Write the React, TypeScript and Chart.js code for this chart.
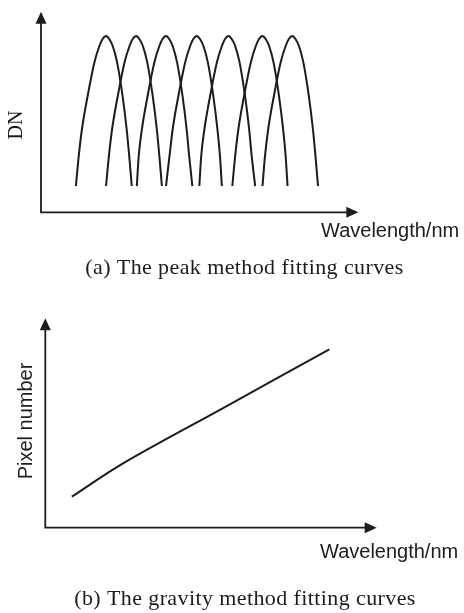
import { useEffect, useRef } from "react";
import { Chart, registerables } from "chart.js";
Chart.register(...registerables);

// ---- (a) peak method: DN levels shared by every peak curve (arbitrary units 0..100)
const DN_LEVELS = [13.1, 28.1, 41.4, 58.0, 74.6, 82.9, 86.4, 87.9, 86.4, 82.9, 74.6, 58.0, 41.4, 28.1, 13.1];
const PEAK_CURVE_1 = [11.0, 11.9, 12.9, 14.7, 16.8, 18.4, 19.4, 20.5, 21.5, 22.6, 24.0, 25.7, 27.0, 27.8, 28.6];
const PEAK_CURVE_2 = [20.5, 21.4, 22.4, 24.2, 26.3, 27.9, 28.9, 30.0, 31.0, 32.1, 33.5, 35.2, 36.5, 37.3, 38.1];
const PEAK_CURVE_3 = [30.2, 30.8, 31.8, 33.6, 35.7, 37.3, 38.3, 39.4, 40.4, 41.5, 42.9, 44.6, 45.9, 46.7, 47.7];
const PEAK_CURVE_4 = [39.4, 40.5, 41.5, 43.3, 45.4, 47.0, 48.0, 49.1, 50.1, 51.2, 52.6, 54.3, 55.6, 56.4, 57.0];
const PEAK_CURVE_5 = [49.9, 50.5, 51.5, 53.3, 55.4, 57.0, 58.0, 59.1, 60.1, 61.2, 62.6, 64.3, 65.6, 66.4, 67.5];
const PEAK_CURVE_6 = [60.3, 61.2, 62.2, 64.0, 66.1, 67.7, 68.7, 69.8, 70.8, 71.9, 73.3, 75.0, 76.3, 77.1, 77.7];
const PEAK_CURVE_7 = [69.8, 70.6, 71.6, 73.4, 75.5, 77.1, 78.1, 79.2, 80.2, 81.3, 82.7, 84.4, 85.7, 86.5, 87.3];
const PEAK_CURVES = [PEAK_CURVE_1, PEAK_CURVE_2, PEAK_CURVE_3, PEAK_CURVE_4, PEAK_CURVE_5, PEAK_CURVE_6, PEAK_CURVE_7];

// ---- (b) gravity method
const GRAVITY_X = [8.0, 23.1, 54.2, 85.7];
const GRAVITY_Y = [14.8, 30.4, 57.6, 85.2];

const LABEL_X = "Wavelength/nm";
const LABEL_Y_A = "DN";
const LABEL_Y_B = "Pixel number";
const CAPTION_A = "(a) The peak method fitting curves";
const CAPTION_B = "(b) The gravity method fitting curves";

const INK = "#1c1c1c";
const SERIF = "'Liberation Serif', serif";
const SANS = "'Liberation Sans', sans-serif";

type Decor = {
  yLabel: string;
  yFont: string;
  yLabelX: number;
  yLabelY: number;
  xLabelX: number;
  xLabelY: number;
  caption: string;
  captionY: number;
  captionX: number;
};

function makeDecor(d: Decor) {
  return {
    id: "decor",
    afterDraw(chart: any) {
      const { ctx, chartArea } = chart;
      const { left, right, top, bottom } = chartArea;
      ctx.save();
      ctx.strokeStyle = INK;
      ctx.fillStyle = INK;
      ctx.lineWidth = 1.8;
      // axes
      ctx.beginPath();
      ctx.moveTo(left, top + 10);
      ctx.lineTo(left, bottom);
      ctx.lineTo(right - 10, bottom);
      ctx.stroke();
      // arrow heads
      ctx.beginPath();
      ctx.moveTo(left, top);
      ctx.lineTo(left - 5.5, top + 12);
      ctx.lineTo(left + 5.5, top + 12);
      ctx.closePath();
      ctx.fill();
      ctx.beginPath();
      ctx.moveTo(right, bottom);
      ctx.lineTo(right - 12, bottom - 5.5);
      ctx.lineTo(right - 12, bottom + 5.5);
      ctx.closePath();
      ctx.fill();
      // x label
      ctx.font = `20px ${SANS}`;
      ctx.textAlign = "left";
      ctx.textBaseline = "alphabetic";
      ctx.fillText(LABEL_X, d.xLabelX, d.xLabelY);
      // y label
      ctx.save();
      ctx.translate(d.yLabelX, d.yLabelY);
      ctx.rotate(-Math.PI / 2);
      ctx.font = d.yFont;
      ctx.textAlign = "center";
      ctx.fillText(d.yLabel, 0, 0);
      ctx.restore();
      // caption
      ctx.font = `22px ${SERIF}`;
      (ctx as any).letterSpacing = "0.4px";
      ctx.textAlign = "center";
      ctx.fillText(d.caption, d.captionX, d.captionY);
      ctx.restore();
    },
  };
}

function baseOptions(padding: any) {
  return {
    animation: false,
    responsive: false,
    devicePixelRatio: 1,
    layout: { padding },
    plugins: { legend: { display: false }, tooltip: { enabled: false }, title: { display: false } },
    scales: {
      x: { type: "linear", min: 0, max: 100, display: false },
      y: { type: "linear", min: 0, max: 100, display: false },
    },
    elements: { point: { radius: 0 } },
  } as any;
}

export default function App() {
  const refA = useRef<HTMLCanvasElement>(null);
  const refB = useRef<HTMLCanvasElement>(null);

  useEffect(() => {
    const chartA = new Chart(refA.current!, {
      type: "scatter",
      data: {
        datasets: PEAK_CURVES.map((xs) => ({
          data: xs.map((x, i) => ({ x, y: DN_LEVELS[i] })),
          showLine: true,
          borderColor: INK,
          borderWidth: 2,
          cubicInterpolationMode: "monotone",
          pointRadius: 0,
          clip: false,
        })),
      },
      options: baseOptions({ left: 41, right: 105.7, top: 11.7, bottom: 77.7 }),
      plugins: [
        makeDecor({
          yLabel: LABEL_Y_A,
          yFont: `20px ${SERIF}`,
          yLabelX: 21.7,
          yLabelY: 125,
          xLabelX: 321,
          xLabelY: 236.7,
          caption: CAPTION_A,
          captionX: 244.5,
          captionY: 274.3,
        }),
      ],
    } as any);

    const chartB = new Chart(refB.current!, {
      type: "scatter",
      data: {
        datasets: [
          {
            data: GRAVITY_X.map((x, i) => ({ x, y: GRAVITY_Y[i] })),
            showLine: true,
            borderColor: INK,
            borderWidth: 2,
            tension: 0.35,
            pointRadius: 0,
            clip: false,
          },
        ],
      },
      options: baseOptions({ left: 45.3, right: 87.3, top: 28.3, bottom: 85.3 }),
      plugins: [
        makeDecor({
          yLabel: LABEL_Y_B,
          yFont: `20px ${SANS}`,
          yLabelX: 31.7,
          yLabelY: 421 - 290,
          xLabelX: 320,
          xLabelY: 558 - 290,
          caption: CAPTION_B,
          captionX: 245,
          captionY: 605.3 - 290,
        }),
      ],
    } as any);

    return () => {
      chartA.destroy();
      chartB.destroy();
    };
  }, []);

  return (
    <div style={{ position: "absolute", left: 0, top: 0, width: 464, height: 613, background: "#fff" }}>
      <canvas ref={refA} width={464} height={290} style={{ position: "absolute", left: 0, top: 0, width: 464, height: 290 }} />
      <canvas ref={refB} width={464} height={323} style={{ position: "absolute", left: 0, top: 290, width: 464, height: 323 }} />
    </div>
  );
}
